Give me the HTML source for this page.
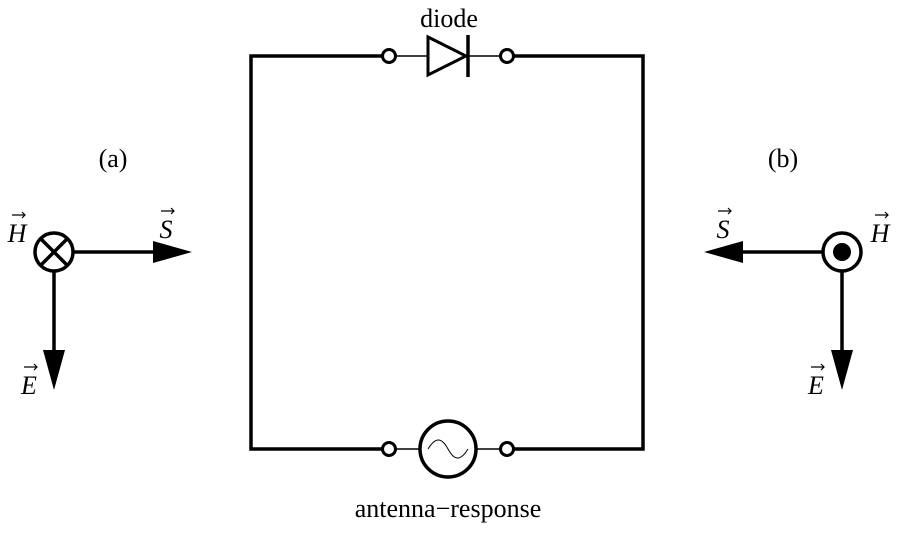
<!DOCTYPE html>
<html><head><style>body{margin:0;background:#fff}</style></head><body>
<svg width="901" height="531" viewBox="0 0 901 531" xmlns="http://www.w3.org/2000/svg" font-family="Liberation Serif, serif" font-size="26">
<g stroke="#000" fill="none">
<path d="M382 56 H251 V449 H382" stroke-width="3.5"/>
<path d="M514 56 H643 V449 H514" stroke-width="3.5"/>
<circle cx="389" cy="56" r="6.5" stroke-width="3" fill="#fff"/>
<circle cx="507" cy="56" r="6.5" stroke-width="3" fill="#fff"/>
<line x1="396" y1="56" x2="500" y2="56" stroke-width="1.5"/>
<path d="M428 37 L466 56 L428 75 Z" stroke-width="3" fill="#fff"/>
<line x1="468" y1="35" x2="468" y2="77" stroke-width="3.5"/>
<circle cx="389" cy="449" r="6.5" stroke-width="3" fill="#fff"/>
<circle cx="507" cy="449" r="6.5" stroke-width="3" fill="#fff"/>
<line x1="396" y1="449" x2="500" y2="449" stroke-width="1.5"/>
<circle cx="448" cy="449" r="28" stroke-width="3.5" fill="#fff"/>
<path d="M428 449 C436 436,442 438,448 449 S460 462,468 449" stroke-width="1"/>
<circle cx="54" cy="252" r="19" stroke-width="3.5"/>
<line x1="41" y1="239" x2="67" y2="265" stroke-width="3.5"/>
<line x1="67" y1="239" x2="41" y2="265" stroke-width="3.5"/>
<line x1="73" y1="252" x2="158" y2="252" stroke-width="3.5"/>
<line x1="54" y1="271" x2="54" y2="352" stroke-width="3.5"/>
<circle cx="842" cy="252" r="19" stroke-width="3.5"/>
<line x1="823" y1="252" x2="740" y2="252" stroke-width="3.5"/>
<line x1="842" y1="271" x2="842" y2="352" stroke-width="3.5"/>
</g>
<g fill="#000">
<path d="M153 241 L192 252 L153 263 Z"/>
<path d="M43 350 L54 390 L65 350 Z"/>
<circle cx="842" cy="252" r="9"/>
<path d="M743 241 L704 252 L743 263 Z"/>
<path d="M831 350 L842 390 L853 350 Z"/>
</g>
<g text-anchor="middle">
<text x="449" y="27">diode</text>
<text x="448" y="517">antenna−response</text>
<text x="113" y="167">(a)</text>
<text x="783" y="167">(b)</text>
<g font-style="italic">
<text x="17" y="242">H</text>
<text x="166" y="238">S</text>
<text x="29" y="394">E</text>
<text x="723" y="238">S</text>
<text x="880" y="242">H</text>
<text x="816" y="394">E</text>
</g>
</g>
<g stroke="#000" stroke-width="1.2" fill="none">
<path d="M12 215 H25 M22 212 L25 215 L22 218"/>
<path d="M161 211 H174 M171 208 L174 211 L171 214"/>
<path d="M24 367 H37 M34 364 L37 367 L34 370"/>
<path d="M718 211 H731 M728 208 L731 211 L728 214"/>
<path d="M875 215 H888 M885 212 L888 215 L885 218"/>
<path d="M811 367 H824 M821 364 L824 367 L821 370"/>
</g>
</svg>
</body></html>
